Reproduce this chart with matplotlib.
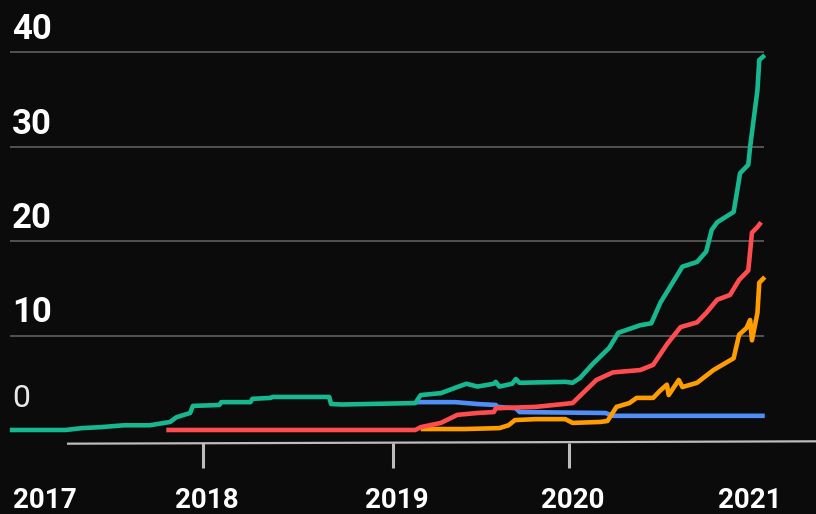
import matplotlib.pyplot as plt

# Datos (año decimal, valor)
verde_x = [2016.945, 2017.25, 2017.34, 2017.44, 2017.57, 2017.71, 2017.82, 2017.855, 2017.93,
           2017.945, 2018.09, 2018.10, 2018.26, 2018.27, 2018.37, 2018.38, 2018.69, 2018.70,
           2018.76, 2019.16, 2019.19, 2019.30, 2019.39, 2019.44, 2019.50, 2019.59, 2019.60,
           2019.62, 2019.69, 2019.71, 2019.73, 2019.98, 2020.02, 2020.06, 2020.13, 2020.22,
           2020.27, 2020.39, 2020.45, 2020.50, 2020.62, 2020.70, 2020.75, 2020.78, 2020.81,
           2020.90, 2020.92, 2020.935, 2020.98, 2020.99, 2021.03, 2021.04, 2021.07]
verde_y = [0.0, 0.0, 0.2, 0.3, 0.5, 0.5, 0.85, 1.35, 1.8,
           2.55, 2.65, 2.95, 2.95, 3.3, 3.4, 3.5, 3.5, 2.75,
           2.7, 2.85, 3.7, 3.9, 4.55, 4.9, 4.6, 4.9, 5.1,
           4.6, 4.9, 5.4, 5.0, 5.1, 5.0, 5.5, 7.0, 8.7,
           10.3, 11.1, 11.3, 13.5, 17.3, 17.8, 18.9, 21.2, 22.0,
           23.1, 25.4, 27.2, 28.1, 30.0, 36.0, 39.2, 39.7]

rojo_x = [2017.80, 2019.16, 2019.19, 2019.30, 2019.39, 2019.50, 2019.59, 2019.60, 2019.82,
          2020.02, 2020.15, 2020.24, 2020.33, 2020.39, 2020.46, 2020.54, 2020.61, 2020.70,
          2020.75, 2020.81, 2020.88, 2020.93, 2020.98, 2021.00, 2021.03, 2021.05]
rojo_y = [0.0, 0.0, 0.3, 0.75, 1.6, 1.8, 1.9, 2.3, 2.45,
          2.85, 5.3, 6.1, 6.25, 6.35, 6.9, 9.2, 10.9, 11.4,
          12.4, 13.8, 14.3, 15.9, 16.9, 20.9, 21.5, 22.0]

naranja_x = [2019.19, 2019.43, 2019.62, 2019.67, 2019.705, 2019.82, 2019.98, 2020.02, 2020.17,
             2020.21, 2020.26, 2020.33, 2020.37, 2020.46, 2020.50, 2020.535, 2020.545, 2020.60,
             2020.62, 2020.70, 2020.79, 2020.90, 2020.93, 2020.97, 2020.99, 2021.00, 2021.03,
             2021.04, 2021.07]
naranja_y = [0.1, 0.1, 0.2, 0.5, 1.05, 1.15, 1.15, 0.75, 0.85,
             0.95, 2.45, 2.85, 3.4, 3.4, 4.2, 4.8, 3.7, 5.3,
             4.55, 5.0, 6.35, 7.6, 10.1, 10.8, 11.65, 9.5, 12.4,
             15.6, 16.2]

azul_x = [2019.16, 2019.38, 2019.50, 2019.60, 2019.61, 2019.71, 2019.73, 2020.20, 2020.24, 2021.07]
azul_y = [2.95, 2.95, 2.75, 2.65, 2.45, 2.3, 1.9, 1.8, 1.5, 1.5]

colores = {"verde": "#17b890", "rojo": "#ff4d4f", "naranja": "#ff9d00", "azul": "#4f8ff7"}

rejilla = [10, 20, 30, 40]
etiquetas_x = ["2017", "2018", "2019", "2020", "2021"]
pos_etiquetas_x = [2017.137, 2018.02, 2019.06, 2020.02, 2020.99]
pos_marcas = [2018.0, 2019.04, 2020.0]

fondo = "#0b0b0b"
plt.rcParams['font.family'] = ['Roboto', 'DejaVu Sans']

fig = plt.figure(figsize=(8.16, 5.14), dpi=100, facecolor=fondo)
ax = fig.add_axes([0, 0, 1, 1])
ax.set_facecolor(fondo)
ax.set_xlim(2016.891, 2021.350)
ax.set_ylim(-8.9, 45.55)
ax.axis("off")

# Rejilla horizontal y etiquetas del eje y
ax.hlines(rejilla, 2016.945, 2021.065, color="#5e5e5e", lw=1.2, zorder=1)
for v in rejilla:
    ax.text(2016.957, v + 1.4, str(v), color="white", fontsize=25,
            fontweight="bold", va="baseline", ha="left")
ax.text(2016.957, 2.4, "0", color="#e8e8e8", fontsize=23, va="baseline", ha="left")

# Líneas de datos
grosor = 3.3
ax.plot(azul_x, azul_y, color=colores["azul"], lw=grosor, zorder=3, solid_capstyle="butt")
ax.plot(naranja_x, naranja_y, color=colores["naranja"], lw=grosor, zorder=4, solid_capstyle="butt")
ax.plot(rojo_x, rojo_y, color=colores["rojo"], lw=grosor, zorder=5, solid_capstyle="butt")
ax.plot(verde_x, verde_y, color=colores["verde"], lw=grosor, zorder=6, solid_capstyle="butt")

# Eje x
ax.plot([2017.263, 2021.35], [-1.45, -1.2], color="#bdbdbd", lw=1.6, clip_on=False)
for p in pos_marcas:
    ax.plot([p, p], [-1.4, -4.0], color="#bdbdbd", lw=2.2, solid_capstyle="butt")
for p, t in zip(pos_etiquetas_x, etiquetas_x):
    ax.text(p, -8.3, t, color="white", fontsize=20, fontweight="bold",
            ha="center", va="baseline")

fig.savefig("out.png", dpi=100, facecolor=fondo)
